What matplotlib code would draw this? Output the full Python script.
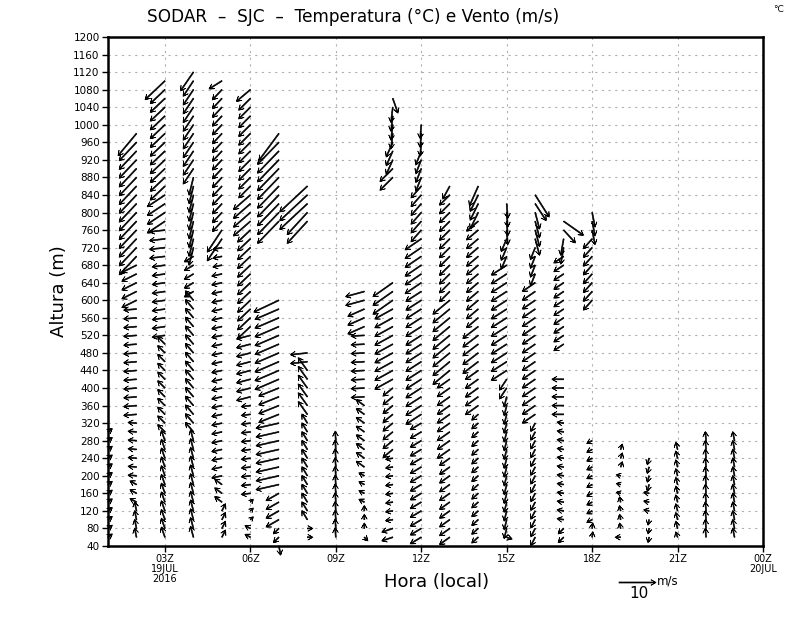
import numpy as np
import matplotlib
matplotlib.use("Agg")
import matplotlib.pyplot as plt

# SODAR wind profiles, 19 JUL 2016, one column per hour (Z)
# each block: (top m, bottom m, u m/s, v m/s), levels every 20 m
h01 = [(300, 60, 1.2, 0.9)]
h02 = [(980, 980, -5.0, -6.0), (960, 700, -4.7, -5.0), (680, 600, -4.0, -2.0),
       (580, 340, -3.5, -0.3), (320, 200, -2.3, 0.2), (180, 140, -1.8, 1.0),
       (120, 60, -0.5, 2.5)]
h03 = [(1100, 1100, -5.4, -5.1), (1080, 860, -4.0, -3.8), (840, 780, -4.8, -3.2),
       (760, 700, -4.2, -0.5), (680, 520, -3.5, -0.5), (500, 300, -2.0, 2.0),
       (280, 60, -1.0, 2.8)]
h04 = [(1120, 1120, -3.5, -5.1), (1100, 900, -2.8, -4.2), (880, 720, -1.2, -4.8),
       (700, 620, -2.5, -1.5), (600, 300, -2.2, 2.6), (280, 60, -0.8, 3.0)]
h05 = [(1100, 1100, -3.5, -2.2), (1080, 780, -2.6, -2.8), (760, 740, -4.0, -6.0),
       (720, 680, -2.5, -0.5), (660, 200, -2.8, -0.6), (180, 140, -2.0, 1.5),
       (120, 60, 1.0, 2.0)]
h06 = [(1080, 1080, -3.8, -3.2), (1060, 860, -3.2, -3.2), (840, 780, -4.6, -4.0),
       (760, 540, -3.5, -3.3), (520, 380, -3.8, -1.0), (360, 160, -2.5, -0.3),
       (140, 100, 0.8, 0.8), (80, 60, -1.5, 0.8)]
h07 = [(980, 980, -5.4, -7.3), (960, 780, -5.8, -6.0), (600, 600, -6.8, -3.2),
       (580, 420, -6.5, -2.8), (400, 340, -5.5, -2.2), (320, 180, -6.2, -1.4),
       (160, 100, -3.5, -2.0), (80, 60, -1.5, -1.5), (40, 40, 0.5, -2.5)]
h08 = [(860, 820, -7.5, -7.0), (800, 780, -5.5, -6.0), (480, 460, -4.6, -0.5),
       (440, 340, -2.5, 3.5), (320, 100, -1.5, 2.5), (80, 60, 1.5, 0.0)]
h09 = [(280, 60, -0.2, 2.6)]
h10 = [(620, 600, -5.1, -1.4), (580, 540, -4.5, -2.0), (520, 380, -3.6, -0.2),
       (360, 220, -2.2, 1.6), (200, 140, -1.5, 0.8), (120, 80, 0.0, 1.5),
       (60, 60, 1.0, -1.0)]
h11 = [(1060, 1060, 1.4, -4.0), (1040, 980, -0.5, -4.2), (960, 920, -1.8, -4.0),
       (900, 880, -3.5, -3.5), (640, 600, -5.4, -3.8), (580, 420, -4.9, -2.7),
       (400, 260, -2.7, -2.2), (240, 100, -2.0, -0.3), (80, 60, -3.0, -1.0)]
h12 = [(1000, 960, -0.3, -3.8), (940, 880, -1.5, -3.8), (860, 760, -2.8, -3.2),
       (740, 640, -4.4, -3.0), (620, 340, -4.2, -2.7), (320, 60, -3.0, -1.8)]
h13 = [(860, 860, -1.9, -3.5), (840, 620, -2.8, -2.8), (600, 440, -4.6, -3.8),
       (420, 260, -3.4, -2.4), (240, 60, -2.8, -2.0)]
h14 = [(860, 860, -2.4, -5.4), (840, 800, -2.2, -4.5), (780, 560, -3.2, -2.7),
       (540, 460, -4.2, -3.2), (440, 360, -3.5, -2.5), (340, 60, -1.8, -1.6)]
h15 = [(820, 760, 0.3, -4.0), (740, 700, -1.5, -3.5), (680, 440, -4.2, -2.7),
       (420, 400, -2.0, -3.0), (380, 80, -0.7, -2.8), (60, 60, 1.5, -0.5)]
h16 = [(840, 840, 3.8, -6.0), (820, 820, 3.0, -4.6), (800, 740, 1.2, -4.5),
       (720, 660, -1.3, -3.3), (640, 340, -3.5, -2.4), (320, 60, -1.2, -2.3)]
h17 = [(780, 780, 5.4, -3.8), (760, 760, 3.2, -3.5), (740, 720, -0.8, -4.5),
       (700, 500, -2.7, -1.8), (420, 340, -3.2, 0.0), (320, 100, -1.8, 0.3),
       (80, 60, -1.5, -1.5)]
h18 = [(800, 760, 0.8, -4.0), (740, 600, -2.4, -2.7), (280, 100, -1.5, -0.8),
       (80, 60, 0.2, 1.5)]
h19 = [(260, 220, 0.5, 1.5), (200, 160, -1.2, 0.3), (140, 80, -0.3, 1.5),
       (60, 60, -1.5, 0.0)]
h20 = [(240, 180, -0.5, -1.8), (160, 120, -1.5, 0.3), (100, 60, -0.3, -1.5)]
h21 = [(260, 80, -0.5, 2.0), (60, 60, -0.5, 1.5)]
h22 = [(280, 60, -0.2, 2.5)]
h23 = [(280, 60, -0.5, 2.5)]

hours = list(range(1, 24))
profiles = [h01, h02, h03, h04, h05, h06, h07, h08, h09, h10, h11, h12,
            h13, h14, h15, h16, h17, h18, h19, h20, h21, h22, h23]

xtick_pos = [3, 6, 9, 12, 15, 18, 21, 24]
xtick_lab = ["03Z\n19JUL\n2016", "06Z", "09Z", "12Z", "15Z", "18Z", "21Z", "00Z\n20JUL"]
ytick_pos = list(range(40, 1201, 40))

# expand blocks to 20 m levels
X, Z, U, V = [], [], [], []
for hr, prof in zip(hours, profiles):
    for top, bot, u, v in prof:
        for z in range(bot, top + 1, 20):
            X.append(hr); Z.append(z); U.append(u); V.append(v)
X = np.array(X, float); Z = np.array(Z, float)
U = np.array(U); V = np.array(V)

fig = plt.figure(figsize=(8, 6.18), dpi=100)
ax = fig.add_axes([108/800, 1 - 546/618, 655/800, 509/618])

ax.set_xlim(1, 24)
ax.set_ylim(40, 1200)
ax.set_xticks(xtick_pos)
ax.set_xticklabels(xtick_lab, fontsize=7, linespacing=0.95)
ax.set_yticks(ytick_pos)
ax.set_yticklabels([str(t) for t in ytick_pos], fontsize=7.5)
ax.tick_params(direction='out', length=4, width=1, pad=2)
ax.grid(True, color='#b0b0b0', linestyle=(0, (2, 4)), linewidth=0.8)
ax.set_axisbelow(True)
for sp in ax.spines.values():
    sp.set_linewidth(1.8)

# GrADS-like line arrows: thin shaft + swept-back open head
q = ax.quiver(X, Z, U, V, angles='uv', pivot='tail',
              units='dots', width=1.0, scale_units='dots', scale=1/3.7,
              headwidth=5.5, headlength=5.0, headaxislength=1.0,
              color='black', edgecolor='black', linewidth=0.5, clip_on=False)

qk = ax.quiverkey(q, 636.5/800, 1 - 582/618, 10, '', labelpos='S',
                  coordinates='figure')
fig.text(639/800, 1 - 594/618, "10", fontsize=11, ha='center', va='center')
fig.text(657/800, 1 - 581/618, "m/s", fontsize=8.5, ha='left', va='center')

fig.text(353/800, 1 - 17/618, "SODAR  \u2013  SJC  \u2013  Temperatura (°C) e Vento (m/s)",
         fontsize=12.2, ha='center', va='center')
fig.text(779/800, 1 - 10/618, "°C", fontsize=6.5, ha='center', va='center')

ax.set_ylabel("Altura (m)", fontsize=13, labelpad=4)
fig.text(437/800, 1 - 582/618, "Hora (local)", fontsize=13, ha='center', va='center')

fig.savefig("out.png", dpi=100)
